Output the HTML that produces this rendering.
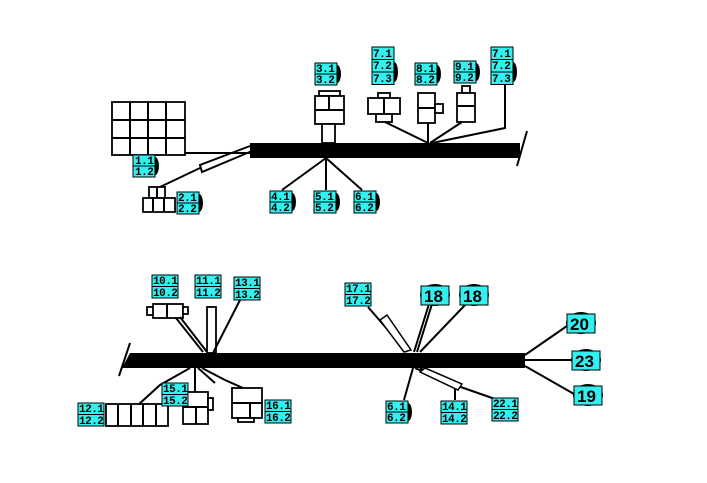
<!DOCTYPE html>
<html><head><style>
body{margin:0;background:#fff;width:707px;height:483px;overflow:hidden}
svg{display:block}
text{font-family:"Liberation Mono",monospace;font-weight:bold;font-size:11px;fill:#000;letter-spacing:-0.5px}
.b{font-family:"Liberation Sans",sans-serif;font-size:17px;letter-spacing:0}
.c{fill:#33f0f0;stroke:#000;stroke-width:1}
.w{fill:#fff;stroke:#000;stroke-width:1.8}
.l{stroke:#000;stroke-width:2;fill:none}
</style></head><body>
<svg width="707" height="483" viewBox="0 0 707 483">
<defs>
<g id="L2"><ellipse cx="22" cy="11" rx="4" ry="9" fill="#000"/><rect class="c" x="0" y="0" width="22" height="11"/><rect class="c" x="0" y="11" width="22" height="11"/></g>
<g id="L3"><ellipse cx="22" cy="25" rx="4" ry="10" fill="#000"/><rect class="c" x="0" y="0" width="22" height="12.5"/><rect class="c" x="0" y="12.5" width="22" height="12.5"/><rect class="c" x="0" y="25" width="22" height="12.5"/></g>
<g id="L2w"><rect class="c" x="0" y="0" width="26" height="11.5"/><rect class="c" x="0" y="11.5" width="26" height="11.5"/></g>
<g id="B"><ellipse cx="15" cy="9" rx="15" ry="11" fill="#000"/><rect class="c" x="1" y="0" width="28" height="19"/></g>
</defs>

<!-- TOP HARNESS -->
<polygon points="250,143 520,143 520,158 250,158" fill="#000"/>
<line x1="527" y1="131" x2="517" y2="166" stroke="#000" stroke-width="2"/>
<rect class="w" x="112" y="102" width="73" height="53"/>
<path class="l" d="M130,102V155M148,102V155M166,102V155M112,120H185M112,138H185"/>
<line class="l" x1="185" y1="153" x2="250" y2="153"/>
<use href="#L2" x="133" y="155"/>
<text x="135" y="164">1.1</text><text x="135" y="175">1.2</text>
<path class="l" d="M250,146L200,165L202,172L252,151M200,168L160,187"/>
<rect class="w" x="149" y="187" width="16" height="11"/>
<rect class="w" x="143" y="198" width="32" height="14"/>
<path class="l" d="M153,198V212M164,198V212M157,187V198"/>
<use href="#L2" x="177" y="192"/>
<text x="178" y="201">2.1</text><text x="178" y="212">2.2</text>
<rect class="w" x="319" y="91" width="21" height="5"/>
<rect class="w" x="315" y="96" width="29" height="28"/>
<path class="l" d="M315,110H344M329,96V110"/>
<rect class="w" x="322" y="124" width="13" height="19"/>
<use href="#L2" x="315" y="63"/>
<text x="316" y="72">3.1</text><text x="316" y="83">3.2</text>
<rect class="w" x="378" y="93" width="12" height="5"/>
<rect class="w" x="368" y="98" width="32" height="16"/>
<line class="l" x1="384" y1="98" x2="384" y2="114"/>
<rect class="w" x="376" y="114" width="16" height="8"/>
<use href="#L3" x="372" y="47"/>
<text x="373" y="57">7.1</text><text x="373" y="69">7.2</text><text x="373" y="82">7.3</text>
<rect class="w" x="418" y="93" width="17" height="30"/>
<line class="l" x1="418" y1="108" x2="435" y2="108"/>
<rect class="w" x="435" y="104" width="8" height="9"/>
<use href="#L2" x="415" y="63"/>
<text x="416" y="72">8.1</text><text x="416" y="83">8.2</text>
<rect class="w" x="462" y="86" width="8" height="7"/>
<rect class="w" x="457" y="93" width="18" height="29"/>
<line class="l" x1="457" y1="106" x2="475" y2="106"/>
<use href="#L2" x="454" y="61"/>
<text x="455" y="70">9.1</text><text x="455" y="81">9.2</text>
<use href="#L3" x="491" y="47"/>
<text x="492" y="57">7.1</text><text x="492" y="69">7.2</text><text x="492" y="82">7.3</text>
<path class="l" d="M385,122L428,143M428,123V143M462,122L430,143M505,85V128L432,143"/>
<path class="l" d="M326,158L282,190M326,158V190M326,158L362,190"/>
<use href="#L2" x="270" y="191"/>
<text x="271" y="200">4.1</text><text x="271" y="211">4.2</text>
<use href="#L2" x="314" y="191"/>
<text x="315" y="200">5.1</text><text x="315" y="211">5.2</text>
<use href="#L2" x="354" y="191"/>
<text x="355" y="200">6.1</text><text x="355" y="211">6.2</text>

<!-- BOTTOM HARNESS -->
<polygon points="130,353 525,353 525,368 122,368" fill="#000"/>
<line x1="130" y1="343" x2="119" y2="376" stroke="#000" stroke-width="2"/>
<rect class="w" x="147" y="307" width="7" height="8"/>
<rect class="w" x="153" y="304" width="30" height="14"/>
<line class="l" x1="167" y1="304" x2="167" y2="318"/>
<rect class="w" x="183" y="307" width="5" height="7"/>
<path class="l" d="M176,318L203,352M180,317L207,352"/>
<use href="#L2w" x="152" y="275"/>
<text x="153" y="284">10.1</text><text x="153" y="296">10.2</text>
<rect class="w" x="207" y="307" width="9" height="46"/>
<use href="#L2w" x="195" y="275"/>
<text x="196" y="284">11.1</text><text x="196" y="296">11.2</text>
<line class="l" x1="240" y1="300" x2="213" y2="353"/>
<use href="#L2w" x="234" y="277"/>
<text x="235" y="286">13.1</text><text x="235" y="298">13.2</text>
<path class="l" d="M190,368L160,385L138,405M195,368V392M198,368L215,383M202,368L225,380L243,388"/>
<rect class="w" x="106" y="404" width="62" height="22"/>
<path class="l" d="M118,404V426M131,404V426M143,404V426M156,404V426"/>
<use href="#L2w" x="78" y="403"/>
<text x="79" y="412">12.1</text><text x="79" y="424">12.2</text>
<rect class="w" x="183" y="392" width="25" height="32"/>
<path class="l" d="M183,407H208M196,407V424"/>
<rect class="w" x="208" y="398" width="5" height="12"/>
<use href="#L2w" x="162" y="383"/>
<text x="163" y="392">15.1</text><text x="163" y="404">15.2</text>
<rect class="w" x="232" y="388" width="30" height="30"/>
<path class="l" d="M232,403H262M250,403V418"/>
<rect class="w" x="238" y="418" width="16" height="4"/>
<use href="#L2w" x="265" y="400"/>
<text x="266" y="409">16.1</text><text x="266" y="421">16.2</text>
<path class="l" d="M368,307L407,352M429,304L414,352M432,304L417,352M466,304L420,352"/>
<polygon points="380,320 387,315 411,350 404,352" fill="#fff" stroke="#000" stroke-width="1.5"/>
<use href="#L2w" x="345" y="283"/>
<text x="346" y="292">17.1</text><text x="346" y="304">17.2</text>
<use href="#B" x="420" y="286"/><text class="b" x="424" y="302">18</text>
<use href="#B" x="459" y="286"/><text class="b" x="463" y="302">18</text>
<path class="l" d="M413,368L404,400M415,368L455,385V400M420,368L455,385M455,385L495,399"/>
<polygon points="425,368 462,384 458,390 420,372" fill="#fff" stroke="#000" stroke-width="1.5"/>
<use href="#L2" x="386" y="401"/>
<text x="387" y="410">6.1</text><text x="387" y="421">6.2</text>
<use href="#L2w" x="441" y="401"/>
<text x="442" y="410">14.1</text><text x="442" y="422">14.2</text>
<use href="#L2w" x="492" y="398"/>
<text x="493" y="407">22.1</text><text x="493" y="419">22.2</text>
<path class="l" d="M525,355L567,326M525,360L572,360M525,366L574,394"/>
<use href="#B" x="566" y="314"/><text class="b" x="570" y="330">20</text>
<use href="#B" x="571" y="351"/><text class="b" x="575" y="367">23</text>
<use href="#B" x="573" y="386"/><text class="b" x="577" y="402">19</text>
</svg>
</body></html>
